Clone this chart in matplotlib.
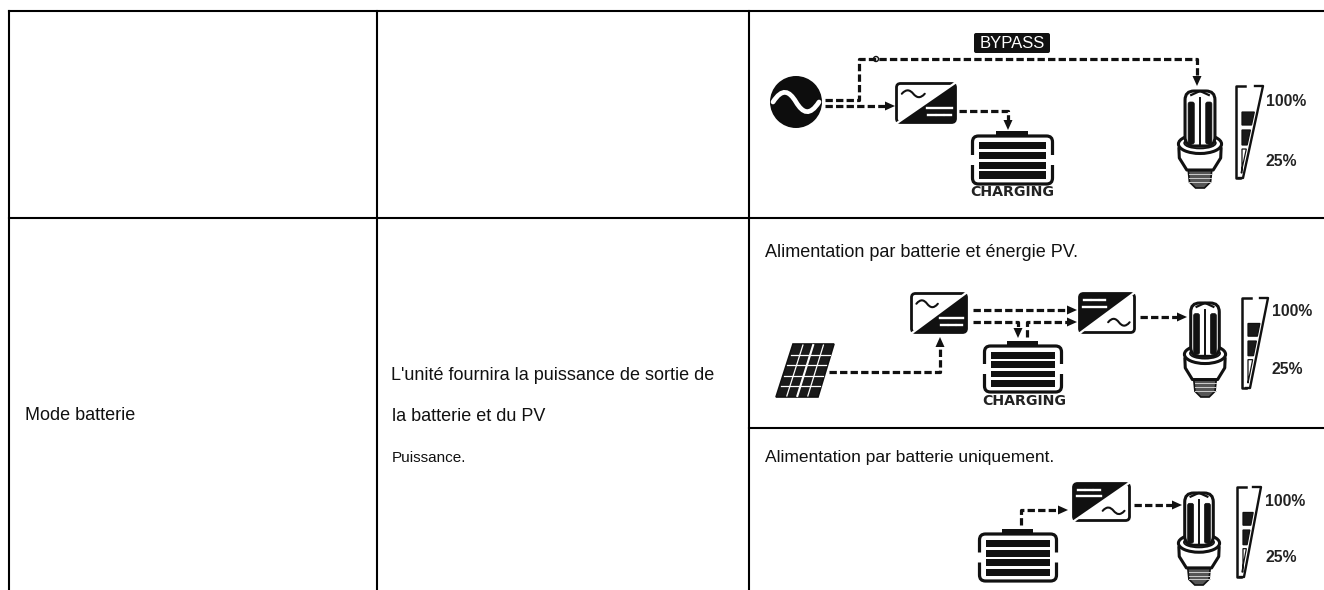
import matplotlib
matplotlib.use("Agg")
import matplotlib.pyplot as plt
from matplotlib.patches import Circle, Ellipse, FancyBboxPatch, PathPatch, Polygon, Rectangle
from matplotlib.path import Path

plt.rcParams['font.family'] = ['Liberation Sans', 'DejaVu Sans']

# table grid, in pixels of the picture
col_lines = [9, 377, 749]
row_lines = [11, 218]
sub_row_line = 428

# table texts
row_title = "Mode batterie"
description = ["L'unité fournira la puissance de sortie de", "la batterie et du PV", "Puissance."]
caption_pv = "Alimentation par batterie et énergie PV."
caption_batt = "Alimentation par batterie uniquement."
bypass_label = "BYPASS"
charging_label = "CHARGING"
level_labels = ["100%", "25%"]

# icon boxes (x0, x1, y0, y1)
inverters = [(895, 957, 82, 124, 'ac'), (910, 968, 292, 334, 'ac'),
             (1078, 1136, 292, 334, 'dc'), (1072, 1131, 482, 522, 'dc')]
batteries = [(971, 1054, 131, 186), (983, 1063, 341, 394), (978, 1058, 529, 583)]
bulbs = [(1178, 1222, 88, 188), (1184, 1226, 300, 397), (1178, 1220, 490, 585)]
wedges = [(1236, 1263, 1243, 86, 178), (1242, 1268, 1250, 298, 388), (1237, 1261, 1244, 487, 577)]
level_text = [(1266, 102, 161), (1272, 312, 370), (1265, 502, 558)]
charging_pos = [(1012, 192), (1024, 401)]

# dashed links: list of points, the last point is where the arrow head starts
links = [
    [(825, 100), (859, 100), (859, 59), (1197, 59), (1197, 76)],
    [(825, 106), (885, 106)],
    [(959, 111), (1008, 111), (1008, 120)],
    [(829, 372), (940, 372), (940, 347)],
    [(973, 310), (1067, 310)],
    [(973, 322), (1018, 322), (1018, 328)],
    [(1027, 337), (1027, 322), (1067, 322)],
    [(1140, 317), (1177, 317)],
    [(1021, 525), (1021, 510), (1058, 510)],
    [(1134, 505), (1172, 505)],
]

fig = plt.figure(figsize=(13.24, 5.9), dpi=100)
ax = fig.add_axes([0, 0, 1, 1])
ax.set_xlim(0, 1324)
ax.set_ylim(590, 0)
ax.axis('off')

INK = '#111111'


def draw_link(points):
    xs = [p[0] for p in points]
    ys = [p[1] for p in points]
    ax.plot(xs, ys, color=INK, lw=2.3, linestyle=(0, (2.3, 1.0)), dash_capstyle='butt')
    (x0, y0), (x1, y1) = points[-2], points[-1]
    dx = (x1 > x0) - (x1 < x0)
    dy = (y1 > y0) - (y1 < y0)
    tip = (x1 + dx * 10, y1 + dy * 10)
    a = (x1 - dy * 4.5, y1 + dx * 4.5)
    b = (x1 + dy * 4.5, y1 - dx * 4.5)
    ax.add_patch(Polygon([tip, a, b], color=INK, lw=0))


def draw_wave(x0, x1, y, h, color, lw):
    w = x1 - x0
    verts = [(x0, y), (x0 + w * 0.2, y - h * 1.5), (x0 + w * 0.35, y - h * 1.2), (x0 + w * 0.5, y),
             (x0 + w * 0.65, y + h * 1.2), (x0 + w * 0.8, y + h * 1.5), (x1, y)]
    codes = [Path.MOVETO] + [Path.CURVE4] * 6
    ax.add_patch(PathPatch(Path(verts, codes), fc='none', ec=color, lw=lw, capstyle='round'))


def draw_inverter(x0, x1, y0, y1, kind):
    w, h = x1 - x0, y1 - y0
    box = FancyBboxPatch((x0 + 1.5, y0 + 1.5), w - 3, h - 3, boxstyle="round,pad=0,rounding_size=4",
                         fc='white', ec=INK, lw=2.0)
    ax.add_patch(box)
    if kind == 'ac':
        tri = Polygon([(x1, y0), (x1, y1), (x0, y1)], color=INK, lw=0)
        bars_x, wave_x, wave_y, bars_y = x0 + w * 0.52, x0 + w * 0.11, y0 + h * 0.28, y0 + h * 0.62
    else:
        tri = Polygon([(x0, y0), (x1, y0), (x0, y1)], color=INK, lw=0)
        bars_x, wave_x, wave_y, bars_y = x0 + w * 0.09, x0 + w * 0.52, y0 + h * 0.72, y0 + h * 0.36
    ax.add_patch(tri)
    tri.set_clip_path(box)
    ax.plot([x1 - 2, x0 + 2], [y0 + 1, y1 - 1], color='white', lw=1.6)
    draw_wave(wave_x, wave_x + w * 0.37, wave_y, h * 0.08, INK, 1.5)
    bw = w * 0.4
    ax.plot([bars_x, bars_x + bw], [bars_y, bars_y], color='white', lw=1.7)
    # the three short bars sit under the long one on the AC/DC icon, above it on the DC/AC one
    short_y = bars_y + h * 0.17 if kind == 'ac' else bars_y - h * 0.17
    for i in range(3):
        ax.plot([bars_x + i * bw / 3 + 1, bars_x + (i + 1) * bw / 3 - 1], [short_y] * 2, color='white', lw=1.7)


def draw_battery(x0, x1, y0, y1):
    w = x1 - x0
    ax.add_patch(Rectangle((x0 + w * 0.3, y0), w * 0.39, 6, color=INK, lw=0))
    top = y0 + 5
    bottom = y1 - 2
    mid = (top + bottom) / 2
    r = 6
    for ya, yb in ((mid - 5, top), (mid + 5, bottom)):
        s = 1 if yb > ya else -1
        verts = [(x0 + 1.5, ya), (x0 + 1.5, yb - s * r), (x0 + 1.5, yb), (x0 + 1.5 + r, yb),
                 (x1 - 1.5 - r, yb), (x1 - 1.5, yb), (x1 - 1.5, yb - s * r), (x1 - 1.5, ya)]
        codes = [Path.MOVETO, Path.LINETO, Path.CURVE3, Path.CURVE3,
                 Path.LINETO, Path.CURVE3, Path.CURVE3, Path.LINETO]
        ax.add_patch(PathPatch(Path(verts, codes), fc='none', ec=INK, lw=2.3))
    bar_h = (bottom - top - 9) / 4
    for i in range(4):
        ax.add_patch(Rectangle((x0 + 8, top + 5.5 + i * bar_h + 0.6), w - 16, bar_h - 2.4, color=INK, lw=0))


def draw_bulb(x0, x1, y0, y1):
    w, h = x1 - x0, y1 - y0
    cx = (x0 + x1) / 2
    # screw
    ax.add_patch(Polygon([(cx - w * 0.27, y0 + h * 0.81), (cx + w * 0.27, y0 + h * 0.81),
                          (cx + w * 0.24, y0 + h * 0.94), (cx + w * 0.1, y1), (cx - w * 0.1, y1),
                          (cx - w * 0.24, y0 + h * 0.94)], fc='#555555', ec=INK, lw=1.2))
    for f in (0.86, 0.9, 0.94):
        ax.plot([cx - w * 0.25, cx + w * 0.25], [y0 + h * f] * 2, color='#cccccc', lw=0.7)
    # collar and its body
    body = [(cx - w * 0.48, y0 + h * 0.6), (cx - w * 0.47, y0 + h * 0.7), (cx - w * 0.3, y0 + h * 0.82),
            (cx + w * 0.3, y0 + h * 0.82), (cx + w * 0.47, y0 + h * 0.7), (cx + w * 0.48, y0 + h * 0.6)]
    ax.add_patch(Polygon(body, fc='white', ec=INK, lw=2.2, joinstyle='round'))
    ax.add_patch(Ellipse((cx, y0 + h * 0.56), w * 0.98, h * 0.19, fc='white', ec=INK, lw=2.2))
    ax.add_patch(Ellipse((cx, y0 + h * 0.55), w * 0.72, h * 0.11, fc='#777777', ec=INK, lw=1.2))
    # tubes
    tube = FancyBboxPatch((cx - w * 0.34, y0 + 3), w * 0.68, h * 0.55, boxstyle="round,pad=0,rounding_size=9",
                          fc='white', ec=INK, lw=2.2)
    ax.add_patch(tube)
    for dx in (-0.2, 0.2):
        ax.add_patch(FancyBboxPatch((cx + w * dx - w * 0.07, y0 + h * 0.14), w * 0.14, h * 0.42,
                                    boxstyle="round,pad=0,rounding_size=2", fc=INK, ec=INK, lw=0.5))
    ax.plot([cx, cx], [y0 + h * 0.1, y0 + h * 0.58], color=INK, lw=1.4)
    ax.plot([cx - w * 0.2, cx, cx + w * 0.2], [y0 + h * 0.07, y0 + h * 0.03, y0 + h * 0.07], color=INK, lw=1.6)


def draw_wedge(left, top_r, bot_r, y0, y1):
    h = y1 - y0

    def slant(y):
        return top_r + (bot_r - top_r) * (y - y0) / h

    ax.plot([left + 9, left, left, left + 4], [y0, y0, y1, y1], color=INK, lw=1.8)
    ax.plot([top_r - 8, top_r, bot_r, bot_r - 4], [y0, y0, y1, y1], color=INK, lw=1.7)
    for fa, fb, filled in ((0.283, 0.424, True), (0.478, 0.641, True), (0.685, 0.945, False)):
        ya, yb = y0 + fa * h, y0 + fb * h
        pts = [(left + 6, ya), (slant(ya) - 3, ya), (slant(yb) - 3, yb), (left + 6, yb)]
        ax.add_patch(Polygon(pts, fc='#1a1a1a' if filled else 'white', ec=INK, lw=0.9))


def draw_solar(tl, tr, br, bl):
    ax.add_patch(Polygon([tl, tr, br, bl], fc='#1a1a1a', ec=INK, lw=1.2))

    def at(u, v):
        xa = tl[0] + (tr[0] - tl[0]) * u
        xb = bl[0] + (br[0] - bl[0]) * u
        ya = tl[1] + (bl[1] - tl[1]) * v
        return xa + (xb - xa) * v, ya

    for u in (0.25, 0.5, 0.75):
        p, q = at(u, 0.02), at(u, 0.98)
        ax.plot([p[0], q[0]], [p[1], q[1]], color='white', lw=1.5 if u == 0.5 else 0.9)
    for v in (0.2, 0.4, 0.6, 0.8):
        p, q = at(0.03, v), at(0.97, v)
        ax.plot([p[0], q[0]], [p[1], q[1]], color='white', lw=0.9)


# table lines
ax.plot([col_lines[0], 1324], [row_lines[0]] * 2, color='black', lw=1.5)
ax.plot([col_lines[0], 1324], [row_lines[1]] * 2, color='black', lw=1.5)
ax.plot([col_lines[2], 1324], [sub_row_line] * 2, color='black', lw=1.5)
for x in col_lines:
    ax.plot([x, x], [row_lines[0], 590], color='black', lw=1.5)

# table texts, placed on their baselines
ax.text(25, 420, row_title, fontsize=13, va='baseline', color=INK)
ax.text(391, 380, description[0], fontsize=13, va='baseline', color=INK)
ax.text(392, 421, description[1], fontsize=13, va='baseline', color=INK)
ax.text(392, 462, description[2], fontsize=11, va='baseline', color=INK)
ax.text(765, 257, caption_pv, fontsize=13, va='baseline', color=INK)
ax.text(765, 462, caption_batt, fontsize=12.5, va='baseline', color=INK)

# diagrams
for points in links:
    draw_link(points)

ax.add_patch(Circle((796, 102), 26, color='#0d0d0d', lw=0))
draw_wave(773, 819, 102, 9.5, 'white', 3.4)
ax.add_patch(Circle((876, 59), 2.5, fc='white', ec=INK, lw=1))

ax.add_patch(FancyBboxPatch((974, 33), 76, 20, boxstyle="round,pad=0,rounding_size=2", color=INK, lw=0))
ax.text(1012, 43.5, bypass_label, color='white', fontsize=12, ha='center', va='center')

for x0, x1, y0, y1, kind in inverters:
    draw_inverter(x0, x1, y0, y1, kind)
for x0, x1, y0, y1 in batteries:
    draw_battery(x0, x1, y0, y1)
for x0, x1, y0, y1 in bulbs:
    draw_bulb(x0, x1, y0, y1)
for left, top_r, bot_r, y0, y1 in wedges:
    draw_wedge(left, top_r, bot_r, y0, y1)
for x, y_hi, y_lo in level_text:
    ax.text(x, y_hi, level_labels[0], fontsize=11.3, fontweight='bold', va='center', color='#222222')
    ax.text(x, y_lo, level_labels[1], fontsize=11.3, fontweight='bold', va='center', color='#222222')
for x, y in charging_pos:
    ax.text(x, y, charging_label, family='DejaVu Sans', fontsize=10.2, fontweight='bold',
            ha='center', va='center', color='#222222')

draw_solar((793, 344), (834, 344), (818, 397), (776, 397))

fig.savefig('out.png', dpi=100, facecolor='white')
